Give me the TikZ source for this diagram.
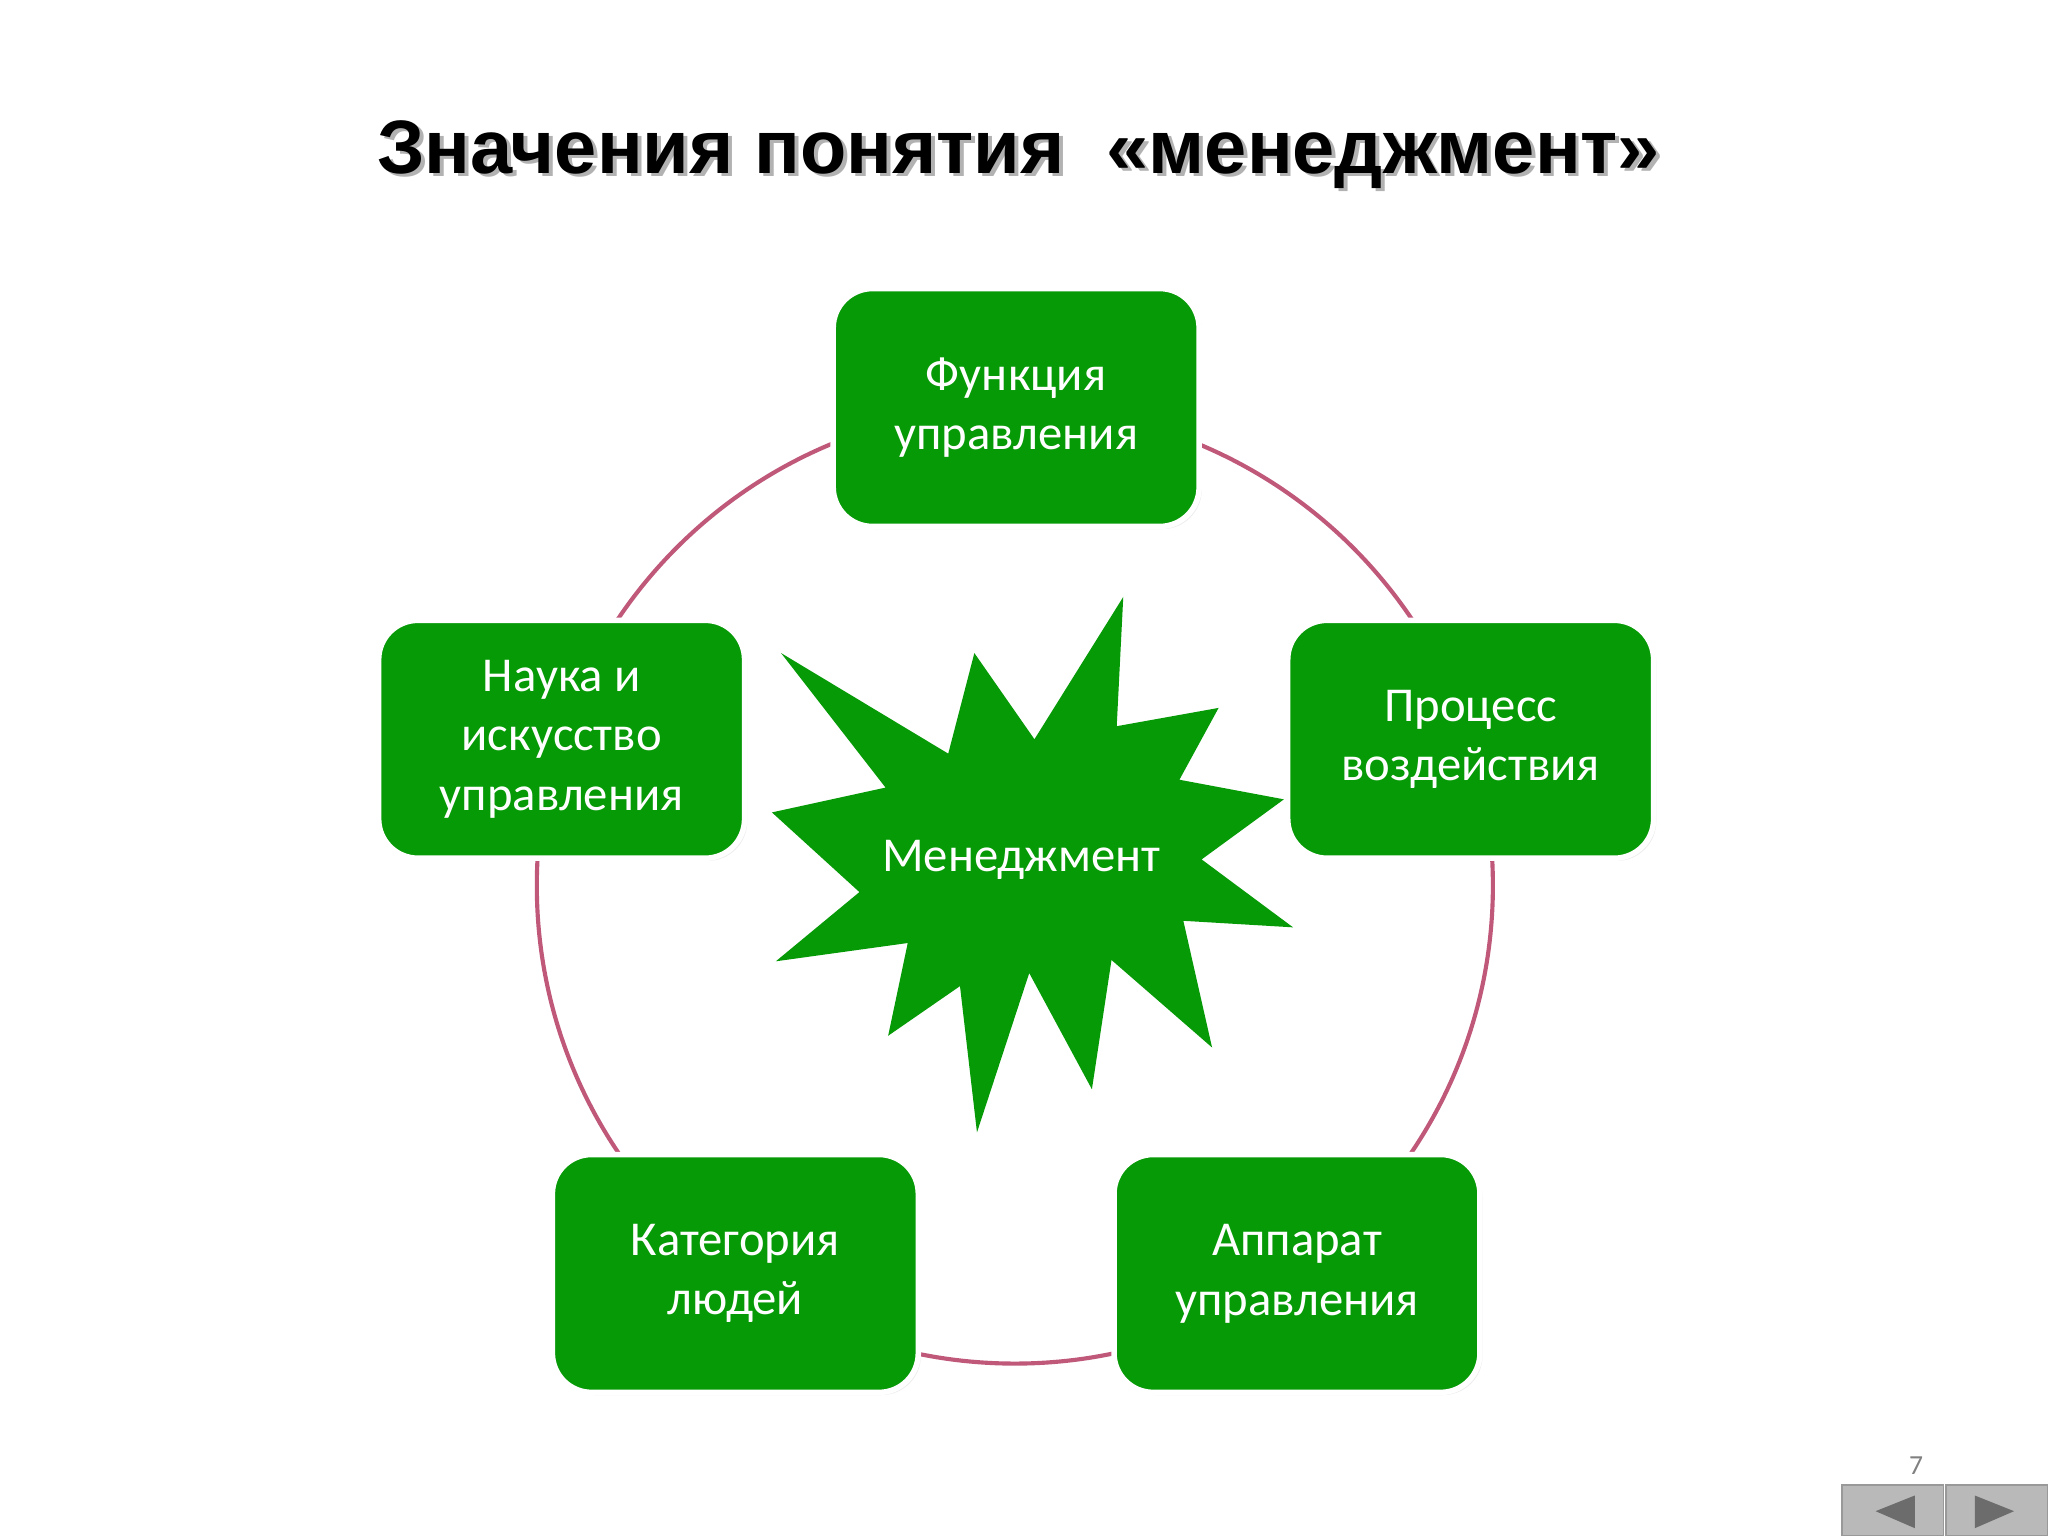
\documentclass[tikz,border=0pt]{standalone}
\usepackage{fontspec}
\usetikzlibrary{shadows}
\setmainfont{Carlito}
\newfontfamily\titlefont{Liberation Sans}
\definecolor{boxgreen}{HTML}{079A07}
\definecolor{ringc}{HTML}{C0587A}
\begin{document}
\begin{tikzpicture}[x=0.01cm,y=-0.01cm,
  gbox/.style={draw=white,line width=1.2pt,fill=boxgreen,rounded corners=0.3cm,minimum width=2.8cm,minimum height=1.82cm,text=white,align=center,font=\fontsize{10.6pt}{13pt}\selectfont,
    drop shadow={opacity=0.15,shadow xshift=0.02cm,shadow yshift=-0.02cm}},
  navbtn/.style={fill=gray!55,draw=gray!80}]
\useasboundingbox (0,0) rectangle (1568,1176);
\fill[white] (0,0) rectangle (1568,1176);
\node[text=gray!60,font=\titlefont\bfseries\fontsize{16.5pt}{20pt}\selectfont] at (783,121) {Значения понятия \ «менеджмент»};
\node (title) [font=\titlefont\bfseries\fontsize{16.5pt}{20pt}\selectfont] at (780,118) {Значения понятия \ «менеджмент»};
\draw[ringc,line width=0.9pt] (777,678) circle[radius=366];
\fill[boxgreen] (860,457)--(855,556)--(933,542)--(903,597)--(983,612)--(920,658)--(990,710)--(906,705)--(928,802)--(851,735)--(836,834)--(788,745)--(748,867)--(735,755)--(680,793)--(695,722)--(594,736)--(658,683)--(591,622)--(678,603)--(598,500)--(726,577)--(746,500)--(792,566)--cycle;
\node (c) [text=white,font=\fontsize{10.6pt}{13pt}\selectfont] at (782,658) {Менеджмент};
\node (t) [gbox] at (778,312) {Функция\\управления};
\node (r) [gbox] at (1126,566) {Процесс\\воздействия};
\node (l) [gbox] at (430,566) {Наука и\\искусство\\управления};
\node (bl) [gbox] at (563,975) {Категория\\людей};
\node (br) [gbox] at (993,975) {Аппарат\\управления};
\node (pg) [text=gray,font=\fontsize{6pt}{7pt}\selectfont] at (1467,1122) {7};
\fill[navbtn] (1410,1137) rectangle (1488,1176);
\fill[navbtn] (1490,1137) rectangle (1568,1176);
\fill[gray!85!black] (1466,1145)--(1466,1170)--(1436,1157)--cycle;
\fill[gray!85!black] (1512,1145)--(1512,1170)--(1542,1157)--cycle;
\end{tikzpicture}
\end{document}
